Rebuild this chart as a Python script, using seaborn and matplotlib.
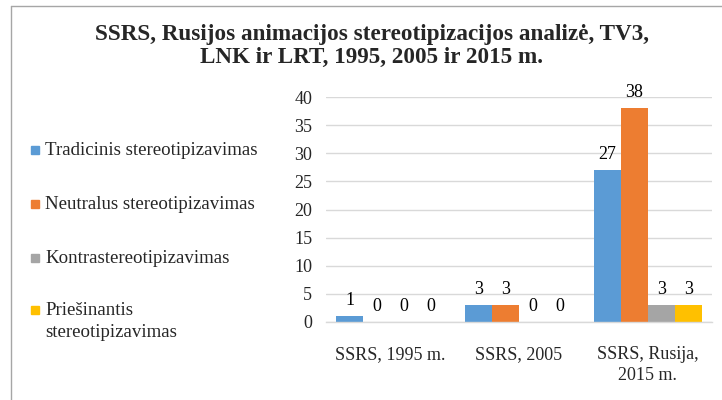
import matplotlib
matplotlib.use("Agg")
import matplotlib.pyplot as plt
import seaborn as sns
import pandas as pd
from matplotlib.patches import Rectangle
from matplotlib.lines import Line2D

categories = ["SSRS, 1995 m.", "SSRS, 2005", "SSRS, Rusija,\n2015 m."]
series = ["Tradicinis stereotipizavimas", "Neutralus stereotipizavimas",
          "Kontrastereotipizavimas", "Priešinantis\nstereotipizavimas"]
values = {
    series[0]: [1, 3, 27],
    series[1]: [0, 3, 38],
    series[2]: [0, 0, 3],
    series[3]: [0, 0, 3],
}
colors = ["#5B9BD5", "#ED7D31", "#A5A5A5", "#FFC000"]
title = "SSRS, Rusijos animacijos stereotipizacijos analizė, TV3,\nLNK ir LRT, 1995, 2005 ir 2015 m."
yticks = [0, 5, 10, 15, 20, 25, 30, 35, 40]

rows = []
for s in series:
    for c, v in zip(categories, values[s]):
        rows.append({"cat": c, "series": s, "value": v})
df = pd.DataFrame(rows)

sns.set_theme(style="white")
plt.rcParams["font.family"] = ["Liberation Serif", "DejaVu Serif"]

FS = 13
W, H = 722, 400
fig = plt.figure(figsize=(7.22, 4.00), dpi=100)
ax = fig.add_axes([326 / W, 1 - 322 / H, (712 - 326) / W, (322 - 97) / H])

sns.barplot(data=df, x="cat", y="value", hue="series", order=categories,
            hue_order=series, palette=colors, width=0.84, saturation=1,
            legend=False, ax=ax, edgecolor="none", linewidth=0)

for cont in ax.containers:
    texts = ax.bar_label(cont, labels=[f"{int(v)}" for v in cont.datavalues],
                         padding=5, fontsize=FS, color="#000000")
    for t in texts:
        t.set_clip_on(False)

ax.set_ylim(0, 40)
ax.set_xlim(-0.5, 2.5)
ax.set_yticks(yticks)
ax.set_yticklabels([str(t) for t in yticks], fontsize=FS)
ax.tick_params(axis="y", length=0, pad=10)
ax.tick_params(axis="x", length=0, pad=17, labelsize=FS)
for lab in ax.get_xticklabels():
    lab.set_linespacing(1.3)
ax.set_xlabel("")
ax.set_ylabel("")
ax.yaxis.grid(True, color="#D9D9D9", linewidth=1)
ax.set_axisbelow(True)
for sp in ["left", "right", "top"]:
    ax.spines[sp].set_visible(False)
ax.spines["bottom"].set_color("#D9D9D9")
ax.spines["bottom"].set_linewidth(1)

# title
fig.text(372 / W, 1 - 46 / H, title, ha="center", va="center",
         fontsize=16.7, fontweight="bold", linespacing=1.12)

# legend (manual)
ys = [150, 204, 258, 310]
for s, c, y in zip(series, colors, ys):
    fig.patches.append(Rectangle((31 / W, 1 - (y + 4) / H), 8 / W, 8 / H,
                                 transform=fig.transFigure, color=c))
    for i, line in enumerate(s.split("\n")):
        fig.text(45 / W, 1 - (y + 5 + 22 * i) / H, line, ha="left",
                 va="baseline", fontsize=13.6)

# chart border
fig.add_artist(Line2D([11 / W, 11 / W], [0, 1 - 6 / H], transform=fig.transFigure,
                      color="#A6A6A6", linewidth=1))
fig.add_artist(Line2D([11 / W, 1], [1 - 6 / H, 1 - 6 / H], transform=fig.transFigure,
                      color="#A6A6A6", linewidth=1))

fig.savefig("out.png", dpi=100, facecolor="white")
